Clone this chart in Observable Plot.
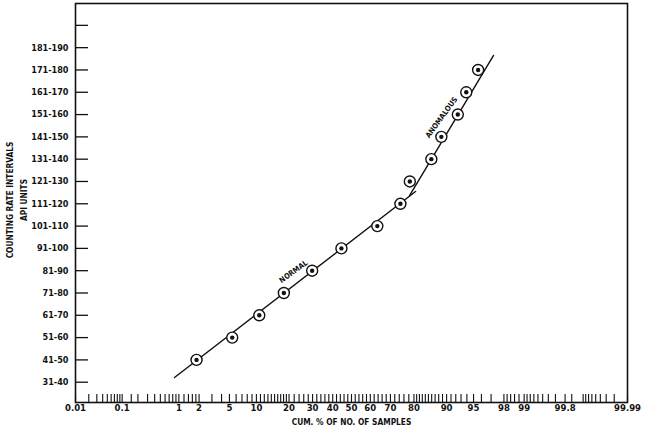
<!DOCTYPE html>
<html>
<head>
<meta charset="utf-8">
<script src="https://cdn.jsdelivr.net/npm/d3@7"></script>
<script src="https://cdn.jsdelivr.net/npm/@observablehq/plot@0.6"></script>
<style>
  html, body { margin: 0; padding: 0; background: #fff; }
  svg { display: block; }
</style>
</head>
<body>
<div id="chart"></div>
<script>
// ---------------- data ----------------
// counting-rate intervals (API units), bottom to top; top tick is unlabeled
const intervalLow = [31, 41, 51, 61, 71, 81, 91, 101, 111, 121, 131, 141, 151, 161, 171, 181, 191];
const intervalLabels = ["31-40", "41-50", "51-60", "61-70", "71-80", "81-90", "91-100", "101-110",
  "111-120", "121-130", "131-140", "141-150", "151-160", "161-170", "171-180", "181-190", ""];

// sample points: cumulative % of no. of samples vs. counting-rate interval (lower bound)
const cumPct = [1.84, 5.4, 10.7, 18.1, 29.8, 44.6, 63.6, 74.5, 78.4, 85.9, 88.7, 92.4, 93.9, 95.6];
const pointLow = [41, 51, 61, 71, 81, 91, 101, 111, 121, 131, 141, 151, 161, 171];

// fitted lines (cum. %, counting rate)
const normalPct = [0.854, 80.6];
const normalRate = [37.6, 121.0];
const anomalousPct = [78.3, 97.22];
const anomalousRate = [119.2, 182.0];

// labelled x ticks (cum. %)
const xLabelTicks = [0.01, 0.1, 1, 2, 5, 10, 20, 30, 40, 50, 60, 70, 80, 90, 95, 98, 99, 99.8, 99.99];
// unlabelled x ticks (cum. %)
const xMinorTicks = [
  0.02, 0.03, 0.04, 0.05, 0.06, 0.07, 0.08, 0.09,
  0.15, 0.2, 0.3, 0.4, 0.5, 0.6, 0.7, 0.8, 0.9,
  1.2, 1.4, 1.6, 1.8, 3, 4, 6, 7, 8, 9,
  11, 12, 13, 14, 15, 16, 17, 18, 19,
  22, 24, 26, 28, 32, 34, 36, 38, 42, 44, 46, 48, 52, 54, 56, 58,
  62, 64, 66, 68, 72, 74, 76, 78,
  81, 82, 83, 84, 85, 86, 87, 88, 89,
  91, 92, 93, 94, 96, 97, 98.2, 98.4, 98.6, 98.8,
  99.1, 99.2, 99.3, 99.4, 99.5, 99.6, 99.7, 99.85,
  99.91, 99.92, 99.93, 99.94, 99.95, 99.96, 99.97, 99.98
];

// ---------------- probability-paper transform (inverse normal CDF) ----------------
function probit(p) {
  const a = [-3.969683028665376e+01, 2.209460984245205e+02, -2.759285104469687e+02, 1.383577518672690e+02, -3.066479806614716e+01, 2.506628277459239e+00];
  const b = [-5.447609879822406e+01, 1.615858368580409e+02, -1.556989798598866e+02, 6.680131188771972e+01, -1.328068155288572e+01];
  const c = [-7.784894002430293e-03, -3.223964580411365e-01, -2.400758277161838e+00, -2.549732539343734e+00, 4.374664141464968e+00, 2.938163982698783e+00];
  const d = [7.784695709041462e-03, 3.224671290700398e-01, 2.445134137142996e+00, 3.754408661907416e+00];
  const plow = 0.02425, phigh = 1 - plow;
  let q, r;
  if (p < plow) {
    q = Math.sqrt(-2 * Math.log(p));
    return (((((c[0]*q+c[1])*q+c[2])*q+c[3])*q+c[4])*q+c[5]) / ((((d[0]*q+d[1])*q+d[2])*q+d[3])*q+1);
  } else if (p <= phigh) {
    q = p - 0.5; r = q * q;
    return (((((a[0]*r+a[1])*r+a[2])*r+a[3])*r+a[4])*r+a[5])*q / (((((b[0]*r+b[1])*r+b[2])*r+b[3])*r+b[4])*r+1);
  } else {
    q = Math.sqrt(-2 * Math.log(1 - p));
    return -(((((c[0]*q+c[1])*q+c[2])*q+c[3])*q+c[4])*q+c[5]) / ((((d[0]*q+d[1])*q+d[2])*q+d[3])*q+1);
  }
}
const px = (pct) => probit(pct / 100);
const mid = (low) => low + 4.5;

// ---------------- tables ----------------
const points = cumPct.map((p, i) => ({pct: p, rate: mid(pointLow[i])}));
const normalLine = normalPct.map((p, i) => ({pct: p, rate: normalRate[i]}));
const anomalousLine = anomalousPct.map((p, i) => ({pct: p, rate: anomalousRate[i]}));
const yTicks = intervalLow.map((lo, i) => ({rate: mid(lo), label: intervalLabels[i]}));
const allXTicks = xLabelTicks.concat(xMinorTicks);

const W = 650, H = 432, mL = 75, mR = 23, mT = 3, mB = 30;
const innerW = W - mL - mR, innerH = H - mT - mB;
const font = "'DejaVu Sans Condensed', 'Liberation Sans Narrow', 'DejaVu Sans', sans-serif";
const ink = "#111";

const chart = Plot.plot({
  width: W,
  height: H,
  marginLeft: mL,
  marginRight: mR,
  marginTop: mT,
  marginBottom: mB,
  style: {fontFamily: font, fontSize: "9px", background: "white", color: ink},
  x: {type: "linear", domain: [px(0.01), px(99.99)], axis: null},
  y: {type: "linear", domain: [26.4, 205.3], axis: null},
  marks: [
    // y ticks (inward)
    Plot.tickY(yTicks, {y: "rate", stroke: ink, strokeWidth: 1.3, insetRight: innerW - 13}),
    Plot.text(yTicks, {y: "rate", text: "label", frameAnchor: "left", textAnchor: "end", dx: -7,
      fontWeight: "bold", fill: ink, fontSize: 9}),
    // x ticks (inward)
    Plot.tickX(allXTicks, {x: (d) => px(d), stroke: ink, strokeWidth: 1.1, insetTop: innerH - 8}),
    Plot.text(xLabelTicks, {x: (d) => px(d), text: (d) => String(d), frameAnchor: "bottom",
      lineAnchor: "top", dy: 2, fontWeight: "bold", fill: ink, fontSize: 9.5}),
    // axis titles
    Plot.text(["CUM. % OF NO. OF SAMPLES"], {x: px(50), text: (d) => d, frameAnchor: "bottom",
      textAnchor: "middle", lineAnchor: "top", dy: 17, fontWeight: "bold", fill: ink, fontSize: 8.3}),
    Plot.text(["COUNTING RATE INTERVALS\nAPI UNITS"], {text: (d) => d, frameAnchor: "left",
      textAnchor: "middle", dx: -60, dy: -3, rotate: -90, lineHeight: 1.75, fontWeight: "bold",
      fill: ink, fontSize: 8.3}),
    // fitted lines
    Plot.line(normalLine, {x: (d) => px(d.pct), y: "rate", stroke: ink, strokeWidth: 1.4}),
    Plot.line(anomalousLine, {x: (d) => px(d.pct), y: "rate", stroke: ink, strokeWidth: 1.4}),
    // line labels
    Plot.text([{pct: 21.7, rate: 85.1, label: "NORMAL"}],
      {x: (d) => px(d.pct), y: "rate", text: "label", rotate: -36, fontSize: 7.5, fontWeight: "bold", fill: ink}),
    Plot.text([{pct: 88.74, rate: 154.2, label: "ANOMALOUS"}],
      {x: (d) => px(d.pct), y: "rate", text: "label", rotate: -54, fontSize: 7.5, fontWeight: "bold", fill: ink}),
    // sample points: open circle with dot
    Plot.dot(points, {x: (d) => px(d.pct), y: "rate", r: 5.5, fill: "white", stroke: ink, strokeWidth: 1.4}),
    Plot.dot(points, {x: (d) => px(d.pct), y: "rate", r: 2.2, fill: ink, stroke: "none"}),
    // frame
    Plot.frame({stroke: ink, strokeWidth: 1.6})
  ]
});
document.getElementById("chart").appendChild(chart);
</script>
</body>
</html>
